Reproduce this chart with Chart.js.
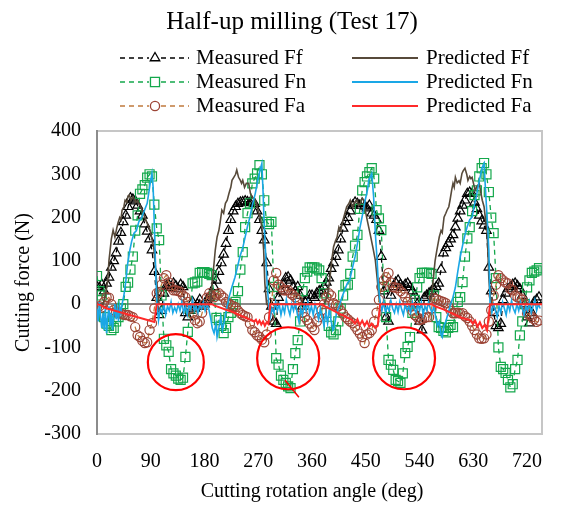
<!DOCTYPE html>
<html>
<head>
<meta charset="utf-8">
<script src="https://cdn.jsdelivr.net/npm/chart.js@4.4.1/dist/chart.umd.min.js"></script>
<style>
  html, body { margin: 0; padding: 0; background: #fff; }
</style>
</head>
<body>
<canvas id="forceChart" width="562" height="505"></canvas>
<script>
// Measured forces, one sample every 4 deg from 0 to 740 deg
const measStep = 4;
const measFf = [
  40, 38, 45, 30, 48, 62, 85, 100, 118, 145, 165, 190, 205, 225, 245, 242, 238, 228, 215, 205,
  185, 168, 150, 125, 75, 15, -25, -15, 25, 42, 45, 38, 48, 42, 35, 45, 40, -20, -30, -15,
  5, -10, 0, 10, -5,
  0, 10, 15, 25, 40, 55, 75, 95, 115, 140, 170, 195, 215, 225, 232, 235, 236, 238, 236, 234,
  236, 232, 215, 195, 170, 148, 95, 35, -5, -40, -45, 15, 30, 45, 60, 62, 55, 40, 30, 40,
  20, -5, 5, 10, 20,
  20, 15, 25, 30, 32, 40, 50, 60, 82, 95, 110, 125, 150, 175, 190, 200, 215, 228, 235, 232,
  228, 232, 226, 222, 228, 210, 205, 195, 170, 110, 30, -30, -40, 20, 40, 50, 55, 45, 38, 45,
  48, 40, 30, 20, 0,
  -40, -60, 15, 20, 25, 30, 35, 40, 48, 80, 118, 130, 140, 150, 160, 178, 198, 215, 228, 240,
  255, 258, 255, 235, 220, 205, 192, 182, 170, 85, 30, -20, -50, -55, -45, 10, 25, 35, 40, 45,
  48, 42, 35, 20, 0,
  -30, -44, -20, 5, 10, 16
];
const measFn = [
  65, 30, 20, -30, -45, -50, -60, -55, -40, -30, -10, 0, 40, 50, 80, 110, 170, 205, 255, 265,
  275, 292, 300, 295, 230, 175, 148, 20, -80, -95, -110, -150, -160, -165, -172, -175, -170, -122, -64, -10,
  48, 50, 52, 72, 74,
  74, 72, 70, 67, 20, -32, -37, -50, -67, -55, -30, -20, 0, 5, 30, 80, 120, 178, 210, 233,
  279, 290, 302, 321, 300, 240, 190, 185, 190, 40, -125, -140, -165, -175, -182, -190, -194, -150, -113, -83,
  -40, 30, 60, 75, 85,
  85, 85, 82, 78, 60, 25, -20, -50, -65, -70, -60, -40, -10, 20, 44, 45, 70, 110, 135, 160,
  220, 263, 282, 295, 305, 314, 290, 217, 198, 171, 40, -30, -129, -140, -152, -175, -178, -182, -160, -113,
  -99, -76, -20, 10, 39,
  60, 72, 72, 72, 72, 70, 20, -30, -53, -55, -62, -65, -55, -48, -53, -20, 5, 16, 51, 110,
  152, 178, 215, 252, 263, 295, 314, 326, 300, 259, 200, 164, 60, -100, -145, -150, -159, -175, -192, -185,
  -150, -129, -72, -40, 0,
  39, 55, 72, 75, 78, 83
];
const measFa = [
  -7, -5, -8, 5, 16, 15, 0, -14, -18, -21, -22, -24, -25, -25, -28, -30, -53, -72, -76, -85,
  -90, -88, -60, -44, -10, 25, 28, 45, 60, 67, 50, 39, 32, 32, 30, 28, 20, 16, 5, -10,
  -21, -37, -44, -40, -20,
  0, 15, 25, 20, 16, 22, 25, 20, 15, 5, 2, -2, -5, -7, -15, -21, -25, -28, -30, -45,
  -60, -65, -72, -76, -82, -88, -70, -30, 2, 55, 72, 45, 39, 32, 32, 32, 25, 21, 16, 10,
  -7, -20, -30, -37, -45,
  -53, -60, -40, -30, -14, 0, 16, 25, 20, 2, -2, -5, -15, -22, -30, -35, -40, -44, -52, -60,
  -68, -76, -90, -70, -67, -60, -40, -20, 10, 40, 55, 62, 72, 50, 39, 38, 37, 30, 25, 16,
  5, -5, -15, -25, -30,
  -37, -35, -32, -30, -30, -10, 14, 12, 9, 7, 5, 2, -5, -15, -21, -21, -20, -22, -21, -28,
  -32, -40, -50, -60, -70, -79, -80, -79, -70, -40, -14, 20, 45, 67, 60, 55, 50, 48, 35, 32,
  20, 16, 14, 10, 0,
  -21, -25, -30, -35, -41, -38
];

// Predicted forces as [angle, force] break points
const predFfPts = [
  [0, 0], [10, 0], [14, 20], [18, 55], [20, 100], [22, 125], [24, 150], [27, 171], [30, 155], [33, 175],
  [35, 187], [38, 200], [40, 195], [42, 217], [45, 225], [47, 240], [50, 235], [52, 250], [54, 252], [57, 240],
  [60, 248], [62, 245], [65, 235], [68, 240], [70, 233], [73, 225], [76, 215], [80, 201], [83, 190], [86, 180],
  [89, 171], [92, 150], [95, 132], [97, 100], [100, 48], [104, 0],
  [190, 0], [193, 55], [196, 95], [198, 125], [201, 155], [204, 170], [206, 187], [209, 217], [212, 210], [215, 233],
  [218, 240], [221, 256], [224, 270], [226, 286], [229, 293], [232, 300], [234, 310], [237, 293], [240, 286], [242, 279],
  [244, 286], [247, 270], [250, 279], [254, 279], [257, 255], [260, 247], [265, 240], [268, 225], [271, 210], [273, 201],
  [276, 178], [279, 125], [281, 48], [284, 0],
  [380, 0], [385, 16], [389, 48], [393, 101], [396, 132], [399, 145], [402, 155], [405, 178], [408, 170], [411, 190],
  [415, 210], [418, 225], [422, 233], [424, 240], [428, 224], [431, 235], [435, 240], [438, 228], [441, 233], [444, 245],
  [447, 240], [449, 217], [453, 190], [457, 164], [462, 130], [466, 101], [469, 60], [472, 16], [475, 0],
  [556, 0], [560, 20], [561, 32], [564, 72], [566, 100], [569, 125], [571, 140], [573, 155], [576, 170], [578, 165],
  [581, 201], [584, 210], [586, 217], [589, 225], [591, 240], [594, 265], [596, 279], [598, 270], [600, 293], [603, 280],
  [606, 285], [608, 279], [611, 302], [613, 308], [616, 314], [619, 300], [621, 286], [624, 295], [626, 290], [628, 293],
  [631, 275], [633, 263], [636, 272], [640, 279], [643, 255], [645, 240], [648, 225], [650, 201], [653, 170], [655, 101],
  [656, 60], [658, 20], [661, 0], [745, 0]
];
const predFnPts = [
  [0, -10], [2, -40], [4, 5], [6, -30], [8, -55], [10, -20], [12, -60], [14, -10], [16, -67], [18, -30],
  [20, -5], [22, -50], [24, -20], [26, -60], [28, -25], [30, 0], [32, -35], [34, -10], [36, -40], [38, -5],
  [40, -20], [42, 0], [45, 20], [48, 50], [51, 90], [55, 125], [58, 145], [62, 164], [66, 170], [70, 190],
  [75, 201], [79, 215], [84, 233], [87, 260], [89, 279], [92, 302], [94, 270], [96, 180], [98, 90], [100, 9],
  [103, -37], [106, -10], [109, -20], [112, 0], [115, -25], [118, -5], [121, -15], [124, 5], [127, -20], [130, -8],
  [133, -18], [136, 0], [139, -15], [142, 5], [145, -20], [148, -5], [151, -25], [154, 0], [157, -12], [160, 10],
  [163, -15], [166, -5], [169, -20], [172, 0], [175, -10], [178, 5], [181, -15], [184, 0], [187, -10], [190, -30],
  [193, -55], [196, -67], [199, -45], [201, -76], [204, -55], [207, -30], [210, -60], [213, -41], [217, -10], [221, 16],
  [226, 40], [231, 62], [235, 85], [239, 109], [244, 130], [248, 155], [252, 180], [256, 201], [260, 228], [265, 256],
  [269, 285], [273, 310], [276, 325], [278, 260], [280, 180], [282, 125], [285, 40], [287, 9], [290, -30], [293, -10],
  [296, -20], [299, 5], [302, -15], [305, 0], [308, -25], [311, -5], [314, -20], [317, 10], [320, -10], [323, -25],
  [326, 0], [329, -15], [332, 5], [335, -20], [338, -40], [341, -10], [344, -25], [347, 0], [350, -15], [353, 5],
  [356, -20], [359, -5], [362, -25], [365, 0], [368, -15], [371, -35], [374, -10], [377, -30], [380, -50], [383, -20],
  [386, -44], [389, -10], [392, -40], [395, -60], [397, -55], [401, -20], [405, -7], [410, 16], [414, 30], [419, 48],
  [423, 55], [427, 80], [432, 109], [436, 140], [440, 175], [445, 210], [449, 240], [453, 265], [455, 286], [458, 295],
  [460, 302], [463, 250], [466, 164], [469, 100], [471, 48], [474, 2], [477, -15], [480, 5], [483, -20], [486, -5],
  [489, -15], [492, 8], [495, -10], [498, -20], [501, 0], [504, -18], [507, 5], [510, -12], [513, -25], [516, 0],
  [519, -15], [522, -5], [525, -20], [528, 5], [531, -10], [534, -20], [537, 0], [540, -15], [543, 5], [546, -25],
  [549, -5], [552, -15], [555, 5], [558, -10], [561, -20], [564, -5], [567, -30], [570, -50], [573, -40], [576, -70],
  [578, -76], [581, -50], [584, -40], [588, -20], [592, 0], [596, 16], [600, 39], [604, 75], [608, 109], [612, 135],
  [616, 160], [620, 180], [624, 195], [628, 201], [632, 230], [636, 256], [640, 285], [645, 316], [648, 325], [651, 250],
  [654, 180], [656, 125], [658, 2], [661, -20], [664, 0], [667, -15], [670, -30], [673, -5], [676, -20], [679, 5],
  [682, -10], [685, -25], [688, 0], [691, -15], [694, 8], [697, -10], [700, -20], [703, 0], [706, -15], [709, 5],
  [712, -10], [715, -25], [718, -5], [721, -15], [724, 5], [727, -20], [730, -5], [733, 10], [736, -15], [739, 0],
  [742, -10]
];
const predFaPts = [
  [0, 0], [6, -2], [14, -9], [96, -41], [100, 0],
  [193, 0], [196, -3], [230, -20], [263, -40], [266, -36], [269, -45], [272, -38], [275, -47], [278, -40], [281, -50],
  [284, -42], [287, -46], [290, 0],
  [377, 0], [382, -5], [400, -18], [427, -37], [432, -45], [436, -35], [440, -48], [444, -38], [448, -50], [452, -40],
  [456, -52], [460, -45], [466, -55], [470, -50], [474, 0],
  [561, 0], [566, -5], [580, -12], [594, -21], [611, -32], [625, -37], [629, -45], [633, -38], [637, -52], [641, -42],
  [645, -55], [649, -48], [653, -60], [658, 0], [745, 0]
];

// Ringed regions and the short pointer stroke
const ringCentres = [[132, -134], [320, -125], [514, -125]];
const pointerStroke = [[315, -176], [338, -215]];

const seriesNames = ['Measured Ff', 'Measured Fn', 'Measured Fa', 'Predicted Ff', 'Predicted Fn', 'Predicted Fa'];
const chartTitle = 'Half-up milling (Test 17)';
const xTitle = 'Cutting rotation angle (deg)';
const yTitle = 'Cutting force (N)';

const serif = "'Liberation Serif', 'Times New Roman', serif";

function toXY(values) {
  return values.map((v, i) => ({ x: i * measStep, y: v }));
}
function pairsToXY(pairs) {
  return pairs.map(p => ({ x: p[0], y: p[1] }));
}

const colFf = '#000000';
const colFn = '#14a84c';
const colFaLine = '#c07a3c';
const colFaMark = '#9c4436';
const colPredFf = '#574a3a';
const colPredFn = '#1aa7e6';
const colPredFa = '#ff2a2a';

// box round the plot area, drawn under the axes
const frame = {
  id: 'frame',
  beforeDraw(chart) {
    const { ctx, chartArea: a } = chart;
    ctx.save();
    ctx.strokeStyle = '#c6c6c6';
    ctx.lineWidth = 2;
    ctx.strokeRect(a.left, a.top, a.right - a.left, a.bottom - a.top);
    ctx.restore();
  }
};

// title, x axis title and the two column legend
const header = {
  id: 'header',
  afterDraw(chart) {
    const ctx = chart.ctx;
    ctx.save();
    ctx.fillStyle = '#000';
    ctx.textBaseline = 'middle';
    ctx.textAlign = 'center';
    ctx.font = '25px ' + serif;
    ctx.fillText(chartTitle, 292, 22);
    ctx.font = '20px ' + serif;
    ctx.fillText(xTitle, 312, 492);

    const rows = [58, 82, 106];
    const left = [
      { color: colFf, mark: colFf, style: 'triangle', r: 5.5 },
      { color: colFn, mark: colFn, style: 'rect', r: 6.4 },
      { color: colFaLine, mark: colFaMark, style: 'circle', r: 4.6 }
    ];
    const right = [colPredFf, colPredFn, colPredFa];
    ctx.font = '21px ' + serif;
    ctx.textAlign = 'left';
    for (let i = 0; i < 3; i++) {
      const y = rows[i];
      ctx.strokeStyle = left[i].color;
      ctx.lineWidth = 1.5;
      ctx.setLineDash([5, 4]);
      ctx.beginPath();
      ctx.moveTo(120, y); ctx.lineTo(149, y);
      ctx.moveTo(161, y); ctx.lineTo(189, y);
      ctx.stroke();
      ctx.setLineDash([]);
      ctx.fillStyle = '#fff';
      ctx.strokeStyle = left[i].mark;
      ctx.lineWidth = 1.3;
      Chart.helpers.drawPoint(ctx, { pointStyle: left[i].style, radius: left[i].r, rotation: 0, borderWidth: 1.3 }, 155, y);
      ctx.fillStyle = '#000';
      ctx.fillText(seriesNames[i], 196, y);

      ctx.strokeStyle = right[i];
      ctx.lineWidth = 2;
      ctx.beginPath();
      ctx.moveTo(352, y); ctx.lineTo(418, y);
      ctx.stroke();
      ctx.fillText(seriesNames[i + 3], 426, y);
    }
    ctx.restore();
  }
};

function measuredSet(values, lineColor, markColor, style, radius, order) {
  return {
    data: toXY(values),
    showLine: true,
    borderColor: lineColor,
    borderWidth: 1.3,
    borderDash: [5, 4],
    pointStyle: style,
    pointRadius: radius,
    pointBorderColor: markColor,
    pointBackgroundColor: 'rgba(0,0,0,0)',
    pointBorderWidth: 1.2,
    order: order
  };
}
function predictedSet(pairs, color, width, order) {
  return {
    data: pairsToXY(pairs),
    showLine: true,
    borderColor: color,
    borderWidth: width,
    pointRadius: 0,
    order: order
  };
}

new Chart(document.getElementById('forceChart'), {
  type: 'scatter',
  data: {
    datasets: [
      measuredSet(measFf, colFf, colFf, 'triangle', 5.5, 6),
      measuredSet(measFn, colFn, colFn, 'rect', 6.4, 5),
      measuredSet(measFa, colFaLine, colFaMark, 'circle', 4.6, 4),
      predictedSet(predFfPts, colPredFf, 1.6, 3),
      predictedSet(predFnPts, colPredFn, 1.6, 2),
      predictedSet(predFaPts, colPredFa, 2, 1),
      {
        data: pairsToXY(ringCentres),
        showLine: false,
        pointStyle: 'circle',
        pointRadius: [28, 31, 31],
        pointBorderColor: '#ff0000',
        pointBackgroundColor: 'rgba(0,0,0,0)',
        pointBorderWidth: 2.2,
        order: 0
      },
      {
        data: pairsToXY(pointerStroke),
        showLine: true,
        borderColor: '#ff0000',
        borderWidth: 1.5,
        pointRadius: 0,
        order: 0
      }
    ]
  },
  options: {
    responsive: false,
    animation: false,
    events: [],
    layout: { autoPadding: false, padding: { top: 131, right: 20, left: 0, bottom: 0 } },
    plugins: {
      legend: { display: false },
      title: { display: false },
      tooltip: { enabled: false }
    },
    scales: {
      x: {
        type: 'linear',
        min: 0,
        max: 745,
        afterFit: s => { s.height = 71; s.paddingRight = 0; s.paddingLeft = 0; },
        ticks: {
          stepSize: 90,
          includeBounds: false,
          padding: 0,
          maxRotation: 0,
          color: '#000',
          font: { family: serif, size: 20 }
        },
        grid: { display: true, drawOnChartArea: false, drawTicks: true, tickLength: 16, color: 'rgba(0,0,0,0)' },
        border: { display: false },
        title: { display: false }
      },
      y: {
        min: -300,
        max: 400,
        afterFit: s => { s.width = 97; },
        ticks: {
          stepSize: 100,
          padding: 16,
          color: '#000',
          font: { family: serif, size: 20 }
        },
        grid: {
          drawTicks: false,
          lineWidth: 2,
          color: c => (c.tick && c.tick.value === 0) ? '#8c8c8c' : 'rgba(0,0,0,0)'
        },
        border: { display: true, color: '#8c8c8c', width: 2 },
        title: {
          display: true,
          text: yTitle,
          color: '#000',
          font: { family: serif, size: 20 },
          padding: { top: 12, bottom: 0 }
        }
      }
    }
  },
  plugins: [frame, header]
});
</script>
</body>
</html>
